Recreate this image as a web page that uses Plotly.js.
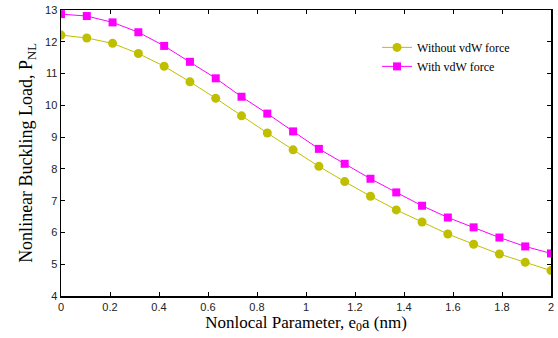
<!DOCTYPE html>
<html><head><meta charset="utf-8">
<script src="https://cdn.plot.ly/plotly-3.0.1.min.js"></script>
<style>body{margin:0;background:#fff}#c{width:558px;height:338px}</style>
</head><body><div id="c"></div>
<script>
const xVals = [0,0.1053,0.2105,0.3158,0.4211,0.5263,0.6316,0.7368,0.8421,0.9474,1.0526,1.1579,1.2632,1.3684,1.4737,1.5789,1.6842,1.7895,1.8947,2];
const withoutVdW = [12.21,12.12,11.95,11.63,11.23,10.74,10.22,9.67,9.13,8.60,8.08,7.60,7.14,6.71,6.33,5.95,5.63,5.32,5.06,4.80];
const withVdW = [12.87,12.81,12.61,12.30,11.87,11.37,10.85,10.27,9.74,9.18,8.63,8.16,7.69,7.26,6.84,6.47,6.16,5.84,5.56,5.34];
const seriesNames = ["Without vdW force","With vdW force"];
const xTicks = [0,0.2,0.4,0.6,0.8,1,1.2,1.4,1.6,1.8,2];
const yTicks = [4,5,6,7,8,9,10,11,12,13];

const serif = 'Liberation Serif';
const traces = [
  {x:xVals,y:withoutVdW,name:seriesNames[0],mode:'lines+markers',
   line:{color:'#bfbf00',width:1},marker:{symbol:'circle',size:9,color:'#bfbf00'}},
  {x:xVals,y:withVdW,name:seriesNames[1],mode:'lines+markers',
   line:{color:'#ff00ff',width:1},marker:{symbol:'square',size:8,color:'#ff00ff'}}
];
const axisCommon = {showgrid:false,zeroline:false,showline:true,linecolor:'#000',linewidth:1.5,
  mirror:'ticks',ticks:'inside',ticklen:4,tickcolor:'#000',tickwidth:1,
  tickfont:{family:'Liberation Sans',size:11,color:'#222'}};
const layout = {
  width:558,height:338,margin:{l:61,r:7,t:10,b:42},
  paper_bgcolor:'#fff',plot_bgcolor:'#fff',
  xaxis:Object.assign({},axisCommon,{range:[0,2],tickvals:xTicks,ticktext:xTicks.map(String),
    title:{text:'Nonlocal Parameter, e<sub>0</sub>a (nm)',font:{family:serif,size:17,color:'#000'},standoff:1}}),
  yaxis:Object.assign({},axisCommon,{range:[4,13],tickvals:yTicks,ticktext:yTicks.map(String),
    title:{text:'Nonlinear Buckling Load, P<sub>NL</sub>',font:{family:serif,size:18,color:'#000'},standoff:7}}),
  showlegend:true,
  legend:{x:0.645,y:0.92,xanchor:'left',yanchor:'top',bgcolor:'rgba(255,255,255,0)',borderwidth:0,
    font:{family:serif,size:12,color:'#000'},tracegroupgap:0}
};
Plotly.newPlot('c',traces,layout,{staticPlot:true,displayModeBar:false});
</script></body></html>
